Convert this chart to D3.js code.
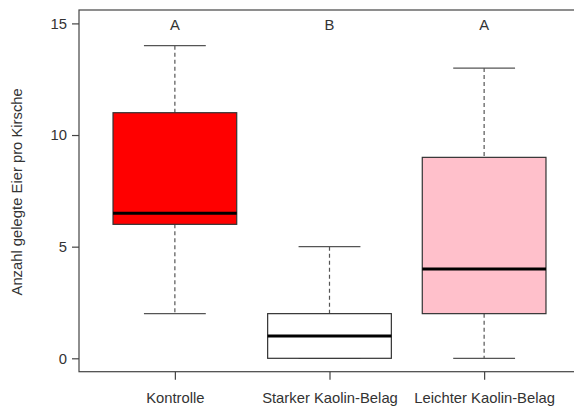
<!DOCTYPE html>
<html>
<head>
<meta charset="utf-8">
<script src="https://cdn.jsdelivr.net/npm/d3@7"></script>
<style>
  html, body { margin: 0; padding: 0; background: #fff; }
  svg { display: block; font-family: "Liberation Sans", Arial, sans-serif; }
</style>
</head>
<body>
<svg id="chart" width="574" height="408"></svg>
<script>
// Treatment groups and their box-plot summaries (eggs laid per cherry)
const categories = ["Kontrolle", "Starker Kaolin-Belag", "Leichter Kaolin-Belag"];
const whiskerLow = [2, 0, 0];
const q1 = [6, 0, 2];
const median = [6.5, 1, 4];
const q3 = [11, 2, 9];
const whiskerHigh = [14, 5, 13];
const fills = ["#ff0000", "#ffffff", "#ffc0cb"];
const letters = ["A", "B", "A"];
const yTicks = [0, 5, 10, 15];
const yLabel = "Anzahl gelegte Eier pro Kirsche";

const groups = categories.map((c, i) => ({
  name: c, pos: i + 1,
  lo: whiskerLow[i], q1: q1[i], med: median[i], q3: q3[i], hi: whiskerHigh[i],
  fill: fills[i], letter: letters[i]
}));

const svg = d3.select("#chart");
const plot = { left: 79, right: 580, top: 10, bottom: 371.7 };
const fontSize = "14.8px";

// x domain padded like an R boxplot (0.5..3.5 extended by 4%)
const x = d3.scaleLinear().domain([0.38, 3.62]).range([plot.left, plot.right]);
const y = d3.scaleLinear().domain([-0.6, 15.6]).range([plot.bottom, plot.top]);

const boxHalf = x(1.4) - x(1);
const capHalf = x(1.2) - x(1);
const ink = "#333";

// Frame (right edge runs past the canvas)
svg.append("rect")
  .attr("x", plot.left).attr("y", plot.top)
  .attr("width", plot.right - plot.left).attr("height", plot.bottom - plot.top)
  .attr("fill", "none").attr("stroke", "#444").attr("stroke-width", 1.2);

// Y axis
const yAxis = svg.append("g")
  .attr("transform", `translate(${plot.left},0)`)
  .call(d3.axisLeft(y).tickValues(yTicks).tickSize(7).tickPadding(5).tickFormat(d3.format("d")));
yAxis.select(".domain").remove();
yAxis.selectAll("line").attr("stroke", "#444").attr("stroke-width", 1.2);
yAxis.selectAll("text").attr("fill", ink).style("font-size", fontSize)
  .style("font-family", "Liberation Sans, Arial, sans-serif");

// X axis
const xAxis = svg.append("g")
  .attr("transform", `translate(0,${plot.bottom})`)
  .call(d3.axisBottom(x).tickValues(groups.map(g => g.pos)).tickSize(8).tickPadding(13)
    .tickFormat((d, i) => categories[i]));
xAxis.select(".domain").remove();
xAxis.selectAll("line").attr("stroke", "#444").attr("stroke-width", 1.2);
xAxis.selectAll("text").attr("fill", ink).style("font-size", fontSize)
  .style("font-family", "Liberation Sans, Arial, sans-serif");

// Y axis title
svg.append("text")
  .attr("transform", `translate(22,${(plot.top + plot.bottom) / 2 + 1}) rotate(-90)`)
  .attr("text-anchor", "middle")
  .attr("fill", ink)
  .style("font-size", fontSize)
  .text(yLabel);

const g = svg.selectAll(".box").data(groups).join("g").attr("class", "box");

// Dashed whiskers
g.append("line")
  .attr("x1", d => x(d.pos)).attr("x2", d => x(d.pos))
  .attr("y1", d => y(d.hi)).attr("y2", d => y(d.q3))
  .attr("stroke", "#555").attr("stroke-width", 1.2).attr("stroke-dasharray", "4,3");
g.append("line")
  .attr("x1", d => x(d.pos)).attr("x2", d => x(d.pos))
  .attr("y1", d => y(d.q1)).attr("y2", d => y(d.lo))
  .attr("stroke", "#555").attr("stroke-width", 1.2).attr("stroke-dasharray", "4,3");

// Whisker caps
g.append("line")
  .attr("x1", d => x(d.pos) - capHalf).attr("x2", d => x(d.pos) + capHalf)
  .attr("y1", d => y(d.hi)).attr("y2", d => y(d.hi))
  .attr("stroke", "#555").attr("stroke-width", 1.2);
g.append("line")
  .attr("x1", d => x(d.pos) - capHalf).attr("x2", d => x(d.pos) + capHalf)
  .attr("y1", d => y(d.lo)).attr("y2", d => y(d.lo))
  .attr("stroke", "#555").attr("stroke-width", 1.2);

// Boxes
g.append("rect")
  .attr("x", d => x(d.pos) - boxHalf)
  .attr("width", 2 * boxHalf)
  .attr("y", d => y(d.q3))
  .attr("height", d => y(d.q1) - y(d.q3))
  .attr("fill", d => d.fill)
  .attr("stroke", ink).attr("stroke-width", 1.2);

// Medians
g.append("line")
  .attr("x1", d => x(d.pos) - boxHalf).attr("x2", d => x(d.pos) + boxHalf)
  .attr("y1", d => y(d.med)).attr("y2", d => y(d.med))
  .attr("stroke", "#000").attr("stroke-width", 3);

// Significance letters
g.append("text")
  .attr("x", d => x(d.pos))
  .attr("y", y(15) + 7)
  .attr("text-anchor", "middle")
  .attr("fill", ink)
  .style("font-size", fontSize)
  .text(d => d.letter);
</script>
</body>
</html>
